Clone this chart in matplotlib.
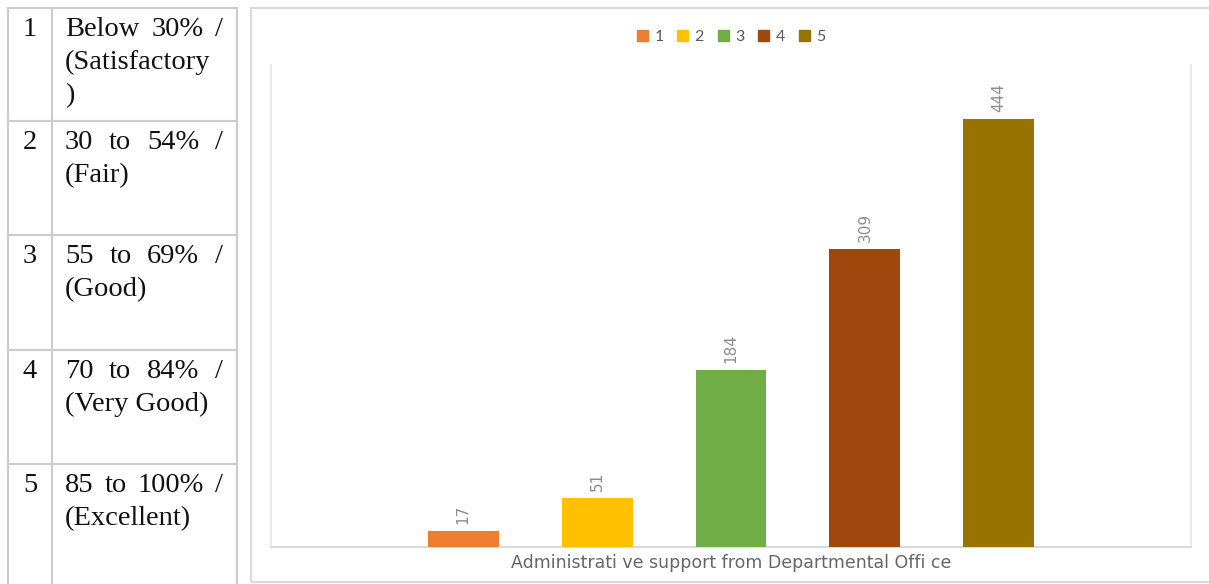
import matplotlib
matplotlib.use("Agg")
import matplotlib.pyplot as plt
from matplotlib.lines import Line2D
from matplotlib.patches import Rectangle

# ---------------- data ----------------
series = ["1", "2", "3", "4", "5"]
values = [17, 51, 184, 309, 444]
colors = ["#ED7D31", "#FFC000", "#70AD47", "#9E480E", "#997300"]
category = "Administrati ve support from Departmental Offi ce"

table_nums = ["1", "2", "3", "4", "5"]
table_lines = [
    ["Below 30% /", "(Satisfactory", ")"],
    ["30 to 54% /", "(Fair)"],
    ["55 to 69% /", "(Good)"],
    ["70 to 84% /", "(Very Good)"],
    ["85 to 100% /", "(Excellent)"],
]

W, H = 1209, 584
fig = plt.figure(figsize=(W / 100, H / 100), dpi=100)
fig.patch.set_facecolor("white")


def fx(px):
    return px / W


def fy(py):
    return 1 - py / H


grid_c = "#cccccc"

# ---------------- table ----------------
row_tops = [8, 121, 235, 350, 464]
for x in [8, 52, 237]:
    fig.add_artist(Line2D([fx(x), fx(x)], [fy(8), fy(584)], color=grid_c, lw=1.5))
for y in row_tops:
    fig.add_artist(Line2D([fx(8), fx(237)], [fy(y), fy(y)], color=grid_c, lw=1.5))

serif = "Liberation Serif"
fs_tab = 20.5
renderer = fig.canvas.get_renderer()
txt_x0, txt_x1 = 65, 223
line_h = 33


def justify(line, y):
    words = line.split(" ")
    arts = [fig.text(fx(txt_x0), fy(y), w, family=serif, fontsize=fs_tab,
                     color="#111111", va="baseline", ha="left") for w in words]
    widths = [a.get_window_extent(renderer).width for a in arts]
    if len(words) == 1:
        return
    gap = ((txt_x1 - txt_x0) - sum(widths)) / (len(words) - 1)
    x = txt_x0
    for a, w in zip(arts, widths):
        a.set_x(fx(x))
        x += w + gap


for top, num, lines in zip(row_tops, table_nums, table_lines):
    base = top + 28
    fig.text(fx(30), fy(base), num, family=serif, fontsize=fs_tab,
             color="#111111", va="baseline", ha="center")
    for i, ln in enumerate(lines):
        yb = base + i * line_h
        if i < len(lines) - 1:
            justify(ln, yb)
        else:
            fig.text(fx(txt_x0), fy(yb), ln, family=serif, fontsize=fs_tab,
                     color="#111111", va="baseline", ha="left")

# ---------------- chart border ----------------
fig.add_artist(Rectangle((fx(251), fy(582)), fx(1300) - fx(251), fy(8) - fy(582),
                         fill=False, edgecolor="#d9d9d9", lw=1.5))

# ---------------- chart ----------------
L, R, T, B = 271, 1191, 65, 547
ax = fig.add_axes([fx(L), fy(B), fx(R - L), (B - T) / H])
xs = list(range(len(values)))
bars = ax.bar(xs, values, width=0.53, color=colors, label=series, zorder=3)
ax.set_ylim(0, 500)
ax.set_xlim(-1.4366, len(values) - 1 + 1.4366)
ax.set_xticks([])
ax.set_yticks([])
for s in ["right", "left"]:
    ax.spines[s].set_color("#e6e6e6")
    ax.spines[s].set_linewidth(1.2)
ax.spines["top"].set_visible(False)
ax.spines["bottom"].set_color("#d9d9d9")
ax.spines["bottom"].set_linewidth(1.5)

for b, v in zip(bars, values):
    ax.annotate(str(v), (b.get_x() + b.get_width() / 2, v), xytext=(0, 5),
                textcoords="offset points", rotation=90, ha="center", va="bottom",
                family="DejaVu Sans", fontsize=11, color="#8c8c8c")

ax.set_xlabel(category, family="DejaVu Sans", fontsize=12.5, color="#666666",
              labelpad=5)

handles = [Rectangle((0, 0), 1, 1, color=c) for c in colors]
fig.legend(handles, series, loc="center", bbox_to_anchor=(fx(731), fy(37)),
           ncol=5, frameon=False, prop={"family": "Lato", "size": 11.5},
           labelcolor="#595959", handlelength=0.7, handleheight=0.7,
           handletextpad=0.4, columnspacing=0.85)

fig.savefig("out.png", dpi=100, facecolor="white")
